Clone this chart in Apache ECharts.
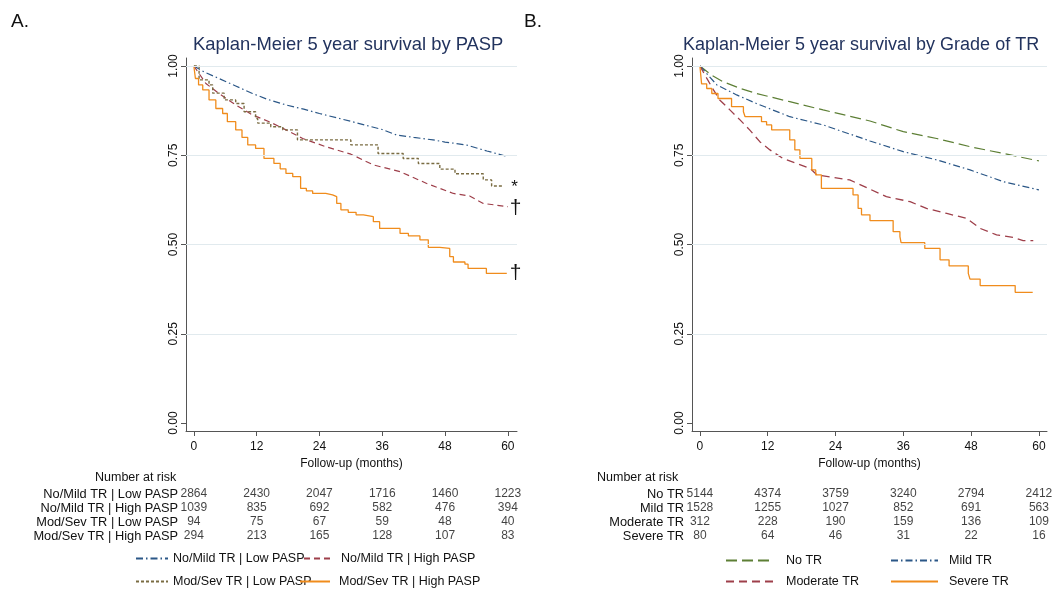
<!DOCTYPE html>
<html><head><meta charset="utf-8">
<script src="https://cdn.jsdelivr.net/npm/echarts@6/dist/echarts.min.js"></script>
<style>html,body{margin:0;padding:0;background:#fff}#c{width:1055px;height:594px}</style>
</head><body><div id="c"></div>
<script>
// ---------- DATA ----------
const tickMonths = [0, 12, 24, 36, 48, 60];
const yTicks = [0, 0.25, 0.5, 0.75, 1];

// Panel A
const aNames = ['No/Mild TR | Low PASP', 'No/Mild TR | High PASP', 'Mod/Sev TR | Low PASP', 'Mod/Sev TR | High PASP'];
const aLowLowT = [0, 2, 4.8, 8, 11.2, 14, 17.6, 21, 24, 30, 36, 38.7, 42, 45.7, 48, 52, 56, 60];
const aLowLowS = [1, 0.983, 0.965, 0.944, 0.923, 0.907, 0.891, 0.879, 0.867, 0.845, 0.822, 0.807, 0.800, 0.793, 0.787, 0.779, 0.762, 0.746];
const aLowHighT = [0, 2.3, 4.8, 8, 11.2, 14.4, 17.6, 20.8, 25.2, 30, 34.3, 39.4, 44.5, 49.6, 52.7, 55.3, 60];
const aLowHighS = [1, 0.951, 0.923, 0.891, 0.863, 0.844, 0.821, 0.797, 0.774, 0.753, 0.723, 0.704, 0.671, 0.643, 0.636, 0.615, 0.606];
const aSevLowT = [0, 1.0, 2.9, 3.6, 5.8, 8.0, 9.6, 11.8, 12.2, 14.7, 17.0, 19.8, 30.0, 35.2, 40.0, 42.9, 47.0, 49.9, 55.3, 56.9, 59.1];
const aSevLowS = [1, 0.961, 0.947, 0.924, 0.905, 0.895, 0.872, 0.853, 0.840, 0.830, 0.821, 0.793, 0.779, 0.755, 0.741, 0.727, 0.711, 0.698, 0.681, 0.664, 0.664];
const aSevHighT = [0, 0.3, 0.9, 1.7, 2.9, 4.2, 5.5, 6.4, 8.0, 9.2, 10.3, 11.8, 13.4, 15.3, 16.5, 17.6, 18.9, 20.4, 21.5, 22.7, 25.2, 26.5, 27.3, 28.1, 29.5, 31.0, 32.4, 34.3, 35.5, 39.4, 41.0, 43.2, 44.8, 47.0, 48.9, 49.6, 51.8, 52.4, 55.9, 59.8];
const aSevHighS = [1, 0.965, 0.947, 0.933, 0.905, 0.881, 0.867, 0.844, 0.821, 0.800, 0.779, 0.769, 0.741, 0.727, 0.712, 0.699, 0.690, 0.657, 0.650, 0.643, 0.639, 0.634, 0.615, 0.597, 0.590, 0.583, 0.578, 0.564, 0.545, 0.531, 0.524, 0.513, 0.492, 0.489, 0.466, 0.451, 0.445, 0.433, 0.419, 0.419];
const aRisk = [
  [2864, 2430, 2047, 1716, 1460, 1223],
  [1039, 835, 692, 582, 476, 394],
  [94, 75, 67, 59, 48, 40],
  [294, 213, 165, 128, 107, 83]
];

// Panel B
const bNames = ['No TR', 'Mild TR', 'Moderate TR', 'Severe TR'];
const bNoT = [0, 2, 4.1, 7, 10, 15.9, 21.8, 30.1, 36, 41.9, 47.8, 53.7, 60];
const bNoS = [1, 0.975, 0.956, 0.938, 0.923, 0.900, 0.877, 0.846, 0.816, 0.797, 0.774, 0.755, 0.734];
const bMildT = [0, 3, 6.5, 10, 15.9, 21.8, 30.1, 36, 41.9, 47.8, 53.7, 60];
const bMildS = [1, 0.947, 0.919, 0.895, 0.858, 0.835, 0.790, 0.760, 0.737, 0.709, 0.676, 0.653];
const bModT = [0, 1.2, 2.4, 3.5, 5.3, 7.1, 8.8, 10.6, 12.4, 14.7, 17.1, 19.5, 20.7, 23.6, 26.5, 30.1, 33, 37.2, 40.1, 43.7, 47.2, 49.6, 52.5, 55.5, 57.2, 59];
const bModS = [1, 0.966, 0.933, 0.905, 0.877, 0.849, 0.821, 0.788, 0.765, 0.741, 0.727, 0.713, 0.695, 0.688, 0.681, 0.655, 0.634, 0.620, 0.601, 0.587, 0.573, 0.545, 0.527, 0.520, 0.511, 0.511];
const bSevT = [0, 0.3, 1.2, 2.1, 3.2, 5.6, 7.7, 8.0, 10.9, 11.8, 12.7, 15.9, 16.8, 17.7, 19.8, 20.5, 21.5, 27.1, 28.0, 28.6, 30.1, 34.2, 35.4, 35.6, 39.8, 42.5, 44.1, 47.5, 47.8, 49.6, 55.8, 58.9];
const bSevS = [1, 0.950, 0.937, 0.923, 0.909, 0.886, 0.872, 0.858, 0.844, 0.835, 0.821, 0.793, 0.765, 0.741, 0.709, 0.695, 0.657, 0.639, 0.601, 0.583, 0.567, 0.536, 0.522, 0.505, 0.489, 0.457, 0.440, 0.419, 0.403, 0.385, 0.366, 0.366];
const bRisk = [
  [5144, 4374, 3759, 3240, 2794, 2412],
  [1528, 1255, 1027, 852, 691, 563],
  [312, 228, 190, 159, 136, 109],
  [80, 64, 46, 31, 22, 16]
];

// ---------- STYLE ----------
const FONT = "'Liberation Sans', Arial, sans-serif";
const C = { blue: '#2b5787', red: '#9e3f4a', olive: '#7a6c42', orange: '#f08c1c', green: '#5d7f35' };
const zip = (t, s) => t.map((v, i) => [v, s[i]]);

function kmSeries(name, t, s, xi, color, type, step, width, endLbl) {
  const o = {
    name, type: 'line', xAxisIndex: xi, yAxisIndex: xi, data: zip(t, s),
    symbol: 'none', step: step ? 'end' : false, z: 3,
    lineStyle: { color, width: width || 1.2, type: type || 'solid' },
    itemStyle: { color }
  };
  if (endLbl) {
    o.endLabel = { show: true, formatter: endLbl.text, fontSize: endLbl.size, color: '#111', fontFamily: FONT, distance: endLbl.dist, offset: endLbl.off || [0, 0] };
  }
  return o;
}

function gridLines(xi) {
  return {
    type: 'line', xAxisIndex: xi, yAxisIndex: xi, data: [], z: 1, silent: true,
    markLine: { silent: true, symbol: 'none', label: { show: false },
      lineStyle: { color: '#e1eaee', width: 1, type: 'solid' },
      data: yTicks.filter(v => v > 0).map(v => ({ yAxis: v })) }
  };
}

function tableSeries(risk, names, xi) {
  const d = [];
  risk.forEach((row, r) => row.forEach((v, k) => d.push([tickMonths[k], names[r], v])));
  return {
    type: 'scatter', xAxisIndex: xi, yAxisIndex: xi, symbolSize: 0, data: d, silent: true,
    label: { show: true, position: 'inside', formatter: p => String(p.value[2]), color: '#111', fontSize: 12, fontFamily: FONT }
  };
}

const axisCol = '#555';
function plotX(min, max, gi) {
  return {
    type: 'value', gridIndex: gi, min, max,
    name: 'Follow-up (months)', nameLocation: 'middle', nameGap: 23,
    nameTextStyle: { color: '#111', fontSize: 12, fontFamily: FONT },
    axisLine: { show: true, onZero: false, lineStyle: { color: axisCol, width: 1 } },
    axisTick: { show: true, customValues: tickMonths, length: 5, lineStyle: { color: axisCol } },
    axisLabel: { customValues: tickMonths, margin: 10, color: '#111', fontSize: 12, fontFamily: FONT },
    splitLine: { show: false }
  };
}
function plotY(gi) {
  return {
    type: 'value', gridIndex: gi, min: -0.0224, max: 1.0224,
    axisLine: { show: true, onZero: false, lineStyle: { color: axisCol, width: 1 } },
    axisTick: { show: true, customValues: yTicks, length: 5, lineStyle: { color: axisCol } },
    axisLabel: { customValues: yTicks, rotate: 90, margin: 6, color: '#111', fontSize: 12, fontFamily: FONT, formatter: v => v.toFixed(2) },
    splitLine: { show: false }
  };
}
function tableX(min, max, gi) {
  return { type: 'value', gridIndex: gi, min, max, show: false };
}
function tableY(names, gi) {
  return {
    type: 'category', gridIndex: gi, data: names, inverse: true,
    axisLine: { show: false }, axisTick: { show: false }, splitLine: { show: false },
    axisLabel: { interval: 0, margin: 8, color: '#111', fontSize: 12.8, fontFamily: FONT }
  };
}

function leg(name, left, top, w, gap) {
  return {
    data: [name], left, top, itemWidth: w, itemHeight: 10, padding: 0,
    itemStyle: { opacity: 0 },
    textStyle: { fontSize: 12.5, color: '#111', fontFamily: FONT, padding: [0, 0, 0, gap || 0] },
    selectedMode: false
  };
}

const titleStyle = (size, color) => ({ fontSize: size, fontWeight: 'normal', color, fontFamily: FONT });

const option = {
  backgroundColor: '#fff',
  animation: false,
  title: [
    { text: 'A.', left: 11, top: 12, padding: 0, textStyle: titleStyle(19, '#111') },
    { text: 'B.', left: 524, top: 12, padding: 0, textStyle: titleStyle(19, '#111') },
    { text: 'Kaplan-Meier 5 year survival by PASP', left: 193, top: 36, padding: 0, textStyle: titleStyle(18.4, '#22335e') },
    { text: 'Kaplan-Meier 5 year survival by Grade of TR', left: 683, top: 36, padding: 0, textStyle: titleStyle(18, '#22335e') },
    { text: 'Number at risk', left: 95, top: 471, padding: 0, textStyle: titleStyle(12.5, '#111') },
    { text: 'Number at risk', left: 597, top: 471, padding: 0, textStyle: titleStyle(12.5, '#111') }
  ],
  grid: [
    { left: 186, top: 58, width: 331, height: 373 },
    { left: 692, top: 58, width: 355, height: 373 },
    { left: 186, top: 487, width: 331, height: 56 },
    { left: 692, top: 487, width: 355, height: 56 }
  ],
  xAxis: [plotX(-1.5, 61.75, 0), plotX(-1.4, 61.43, 1), tableX(-1.5, 61.75, 2), tableX(-1.4, 61.43, 3)],
  yAxis: [plotY(0), plotY(1), tableY(aNames, 2), tableY(bNames, 3)],
  legend: [
    leg(aNames[0], 135, 552, 32, 0),
    leg(aNames[1], 303, 552, 30, 2),
    leg(aNames[2], 135, 575, 32, 0),
    leg(aNames[3], 299, 575, 30, 4),
    leg(bNames[0], 725, 554, 47, 8),
    leg(bNames[1], 890, 554, 47, 6),
    leg(bNames[2], 725, 575, 47, 8),
    leg(bNames[3], 890, 575, 47, 6)
  ],
  series: [
    gridLines(0), gridLines(1),
    kmSeries(aNames[0], aLowLowT, aLowLowS, 0, C.blue, [7, 3, 1.5, 3], false, 1.2),
    kmSeries(aNames[1], aLowHighT, aLowHighS, 0, C.red, [6, 4], false, 1.2, { text: '†', size: 21, dist: 2, off: [0, 2] }),
    kmSeries(aNames[2], aSevLowT, aSevLowS, 0, C.olive, [3, 2], true, 1.4, { text: '*', size: 17, dist: 8, off: [0, 1] }),
    kmSeries(aNames[3], aSevHighT, aSevHighS, 0, C.orange, 'solid', true, 1.3, { text: '†', size: 21, dist: 3, off: [0, 0] }),
    kmSeries(bNames[0], bNoT, bNoS, 1, C.green, [11, 5], false, 1.2),
    kmSeries(bNames[1], bMildT, bMildS, 1, C.blue, [7, 3, 1.5, 3], false, 1.2),
    kmSeries(bNames[2], bModT, bModS, 1, C.red, [8, 5], false, 1.3),
    kmSeries(bNames[3], bSevT, bSevS, 1, C.orange, 'solid', true, 1.3),
    tableSeries(aRisk, aNames, 2),
    tableSeries(bRisk, bNames, 3)
  ]
};

const chart = echarts.init(document.getElementById('c'), null, { renderer: 'canvas' });
chart.setOption(option);
</script></body></html>
